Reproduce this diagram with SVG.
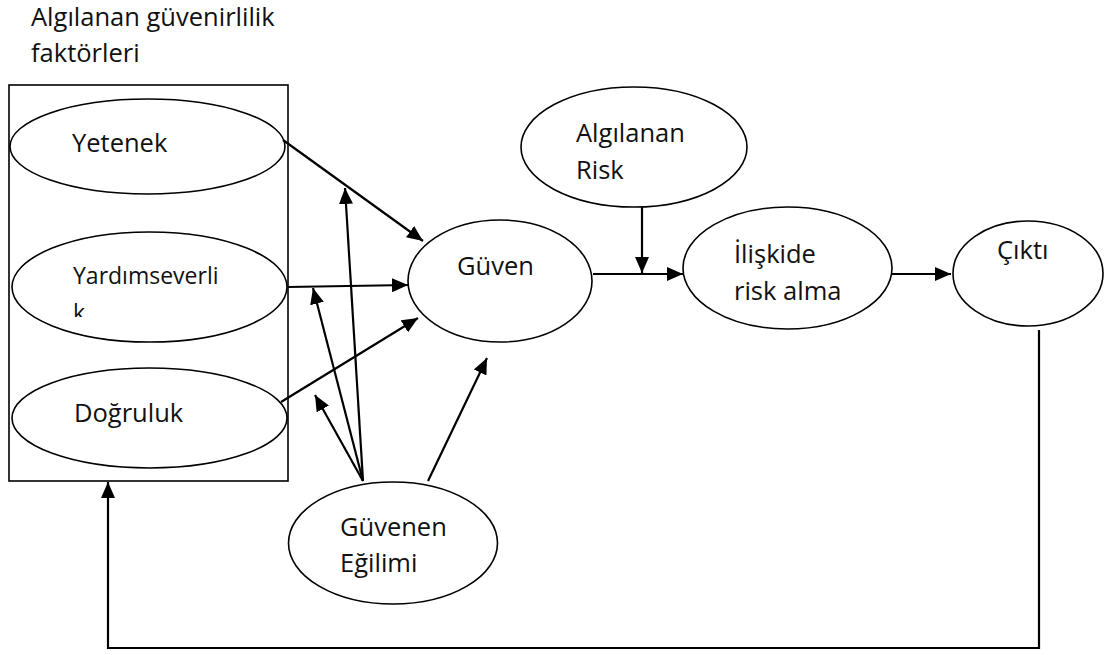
<svg xmlns="http://www.w3.org/2000/svg" width="1108" height="655" viewBox="0 0 1108 655">
  <style>
    .shape { fill: #ffffff; stroke: #000000; stroke-width: 1.6; }
    .frame { fill: none; stroke: #000000; stroke-width: 1.6; }
    .label { font-family: "Open Sans", "Liberation Sans", sans-serif; font-size: 25.5px; fill: #111111; }
    .small { font-size: 23px; }
    .edge { fill: none; stroke: #000000; stroke-width: 2.2; }
    .arrow { marker-end: url(#head); }
  </style>
  <defs>
    <marker id="head" markerUnits="userSpaceOnUse" markerWidth="16" markerHeight="14" refX="16" refY="7" orient="auto">
      <path d="M0,0 L16,7 L0,14 z" fill="#000000"/>
    </marker>
    <!-- second line of the "Yardımseverlik" label shows only its upper part -->
    <clipPath id="cut-k">
      <rect x="60" y="290" width="160" height="27"/>
    </clipPath>
  </defs>

  <rect width="1108" height="655" fill="#ffffff"/>

  <!-- group of perceived trustworthiness factors -->
  <g id="factors">
    <text class="label" x="31" y="26">Algılanan güvenirlilik</text>
    <text class="label" x="31" y="62">faktörleri</text>
    <rect class="frame" x="9" y="85" width="279" height="396"/>
  </g>

  <g id="yetenek">
    <ellipse class="shape" cx="147.5" cy="146.5" rx="137.5" ry="47.5"/>
    <text class="label" x="72" y="152">Yetenek</text>
  </g>

  <g id="yardimseverlik">
    <ellipse class="shape" cx="149.5" cy="287" rx="137.5" ry="55"/>
    <text class="label small" x="73" y="284">Yardımseverli</text>
    <text class="label small" x="73" y="321" clip-path="url(#cut-k)">k</text>
  </g>

  <g id="dogruluk">
    <ellipse class="shape" cx="149.5" cy="418" rx="137.5" ry="50"/>
    <text class="label" x="74" y="422">Doğruluk</text>
  </g>

  <g id="guven">
    <ellipse class="shape" cx="500" cy="281" rx="92" ry="61"/>
    <text class="label" x="457" y="275">Güven</text>
  </g>

  <g id="guvenen-egilimi">
    <ellipse class="shape" cx="393" cy="543" rx="104.5" ry="61"/>
    <text class="label" x="340" y="536">Güvenen</text>
    <text class="label" x="340" y="572">Eğilimi</text>
  </g>

  <g id="algilanan-risk">
    <ellipse class="shape" cx="634" cy="147" rx="113" ry="60"/>
    <text class="label" x="576" y="142">Algılanan</text>
    <text class="label" x="576" y="179">Risk</text>
  </g>

  <g id="iliskide-risk-alma">
    <ellipse class="shape" cx="787.5" cy="268" rx="104.5" ry="61"/>
    <text class="label" x="734" y="263">İlişkide</text>
    <text class="label" x="734" y="300">risk alma</text>
  </g>

  <g id="cikti">
    <ellipse class="shape" cx="1028" cy="273.5" rx="75" ry="52.5"/>
    <text class="label" x="997" y="259">Çıktı</text>
  </g>

  <g id="connectors">
    <!-- factors into trust -->
    <line class="edge arrow" x1="283" y1="140" x2="423" y2="241"/>
    <line class="edge arrow" x1="288" y1="287" x2="408" y2="285"/>
    <line class="edge arrow" x1="281" y1="402" x2="418" y2="318"/>
    <!-- trust propensity -->
    <line class="edge arrow" x1="428" y1="481" x2="487" y2="358"/>
    <line class="edge arrow" x1="363" y1="481" x2="345" y2="188"/>
    <line class="edge arrow" x1="363" y1="481" x2="313" y2="288"/>
    <line class="edge arrow" x1="363" y1="481" x2="315" y2="395"/>
    <!-- trust to risk taking, moderated by perceived risk -->
    <line class="edge arrow" x1="593" y1="274" x2="683" y2="274"/>
    <line class="edge arrow" x1="642" y1="207" x2="642" y2="273"/>
    <line class="edge arrow" x1="892" y1="274" x2="951" y2="274"/>
    <!-- feedback from outcome to the factors -->
    <polyline class="edge arrow" points="1039,330 1039,648 108,648 108,482"/>
  </g>
</svg>
